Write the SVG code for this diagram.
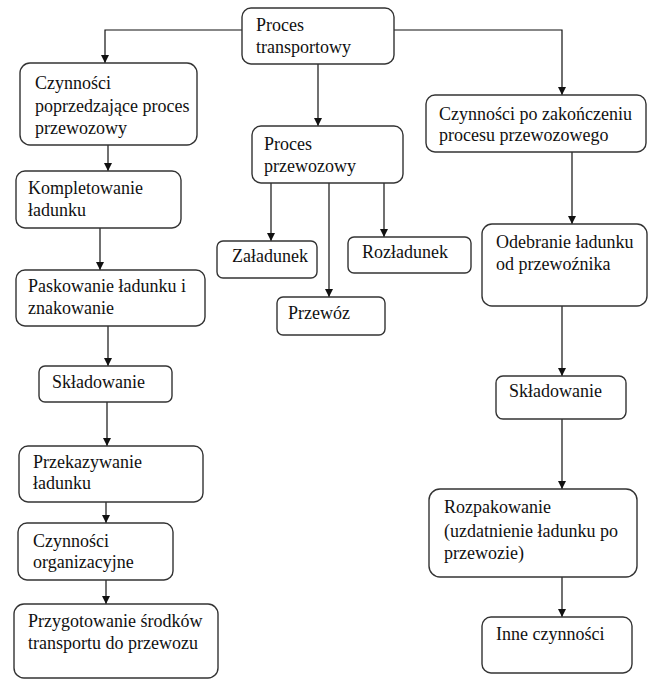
<svg xmlns="http://www.w3.org/2000/svg" width="649" height="680" viewBox="0 0 649 680">
<style>
.box{fill:#fff;stroke:#333;stroke-width:1.4}
.t{font-family:"Liberation Serif","Times New Roman",Times,serif;font-size:18px;fill:#111}
.c{fill:none;stroke:#111;stroke-width:1.2}
</style>
<defs>
<marker id="ah" viewBox="0 0 10 10" refX="10" refY="5" markerWidth="8" markerHeight="9" markerUnits="userSpaceOnUse" orient="auto">
<path d="M0,0 L10,5 L0,10 z" fill="#111"/>
</marker>
</defs>
<rect width="649" height="680" fill="#fff"/>
<g id="connectors">
<path class="c" d="M242,30 H105 V63" marker-end="url(#ah)"/>
<path class="c" d="M318,64 V126" marker-end="url(#ah)"/>
<path class="c" d="M394,30 H562 V95" marker-end="url(#ah)"/>
<path class="c" d="M108,145 V171" marker-end="url(#ah)"/>
<path class="c" d="M100,228 V270" marker-end="url(#ah)"/>
<path class="c" d="M108,326 V366" marker-end="url(#ah)"/>
<path class="c" d="M107,402 V446" marker-end="url(#ah)"/>
<path class="c" d="M106,502 V523" marker-end="url(#ah)"/>
<path class="c" d="M106,580 V604" marker-end="url(#ah)"/>
<path class="c" d="M271,183 V241" marker-end="url(#ah)"/>
<path class="c" d="M329,183 V297" marker-end="url(#ah)"/>
<path class="c" d="M384,183 V237" marker-end="url(#ah)"/>
<path class="c" d="M572,152 V224" marker-end="url(#ah)"/>
<path class="c" d="M562,306 V376" marker-end="url(#ah)"/>
<path class="c" d="M562,419 V489" marker-end="url(#ah)"/>
<path class="c" d="M562,577 V617" marker-end="url(#ah)"/>
</g>
<g id="n-transport">
<rect class="box" x="242" y="8" width="152" height="56" rx="9"/>
<text class="t" x="256" y="31">Proces</text>
<text class="t" x="256" y="53">transportowy</text>
</g>
<g id="n-poprzedzajace">
<rect class="box" x="20" y="63" width="177" height="82" rx="10"/>
<text class="t" x="35" y="89">Czynności</text>
<text class="t" x="35" y="112">poprzedzające proces</text>
<text class="t" x="35" y="134">przewozowy</text>
</g>
<g id="n-kompletowanie">
<rect class="box" x="16" y="171" width="165" height="57" rx="9"/>
<text class="t" x="28" y="194">Kompletowanie</text>
<text class="t" x="28" y="216">ładunku</text>
</g>
<g id="n-paskowanie">
<rect class="box" x="16" y="270" width="189" height="56" rx="9"/>
<text class="t" x="28" y="292">Paskowanie ładunku i</text>
<text class="t" x="28" y="314">znakowanie</text>
</g>
<g id="n-skladowanie-l">
<rect class="box" x="39" y="366" width="133" height="36" rx="6"/>
<text class="t" x="52" y="388">Składowanie</text>
</g>
<g id="n-przekazywanie">
<rect class="box" x="19" y="446" width="184" height="56" rx="9"/>
<text class="t" x="33" y="468">Przekazywanie</text>
<text class="t" x="33" y="489">ładunku</text>
</g>
<g id="n-organizacyjne">
<rect class="box" x="18" y="523" width="155" height="57" rx="9"/>
<text class="t" x="33" y="547">Czynności</text>
<text class="t" x="33" y="568">organizacyjne</text>
</g>
<g id="n-przygotowanie">
<rect class="box" x="14" y="604" width="204" height="74" rx="10"/>
<text class="t" x="28" y="627">Przygotowanie środków</text>
<text class="t" x="28" y="649">transportu do przewozu</text>
</g>
<g id="n-przewozowy">
<rect class="box" x="252" y="126" width="151" height="57" rx="9"/>
<text class="t" x="264" y="150">Proces</text>
<text class="t" x="264" y="172">przewozowy</text>
</g>
<g id="n-zaladunek">
<rect class="box" x="217" y="241" width="100" height="37" rx="6"/>
<text class="t" x="232" y="262">Załadunek</text>
</g>
<g id="n-przewoz">
<rect class="box" x="277" y="297" width="108" height="38" rx="6"/>
<text class="t" x="288" y="319">Przewóz</text>
</g>
<g id="n-rozladunek">
<rect class="box" x="348" y="237" width="123" height="36" rx="6"/>
<text class="t" x="362" y="258">Rozładunek</text>
</g>
<g id="n-po-zakonczeniu">
<rect class="box" x="426" y="95" width="220" height="57" rx="9"/>
<text class="t" x="439" y="120">Czynności po zakończeniu</text>
<text class="t" x="439" y="141">procesu przewozowego</text>
</g>
<g id="n-odebranie">
<rect class="box" x="482" y="224" width="165" height="82" rx="10"/>
<text class="t" x="496" y="248">Odebranie ładunku</text>
<text class="t" x="496" y="270">od przewoźnika</text>
</g>
<g id="n-skladowanie-r">
<rect class="box" x="496" y="376" width="130" height="43" rx="7"/>
<text class="t" x="509" y="397">Składowanie</text>
</g>
<g id="n-rozpakowanie">
<rect class="box" x="429" y="489" width="208" height="88" rx="11"/>
<text class="t" x="444" y="513">Rozpakowanie</text>
<text class="t" x="444" y="537">(uzdatnienie ładunku po</text>
<text class="t" x="444" y="559">przewozie)</text>
</g>
<g id="n-inne">
<rect class="box" x="482" y="617" width="150" height="56" rx="9"/>
<text class="t" x="496" y="640">Inne czynności</text>
</g>
</svg>
